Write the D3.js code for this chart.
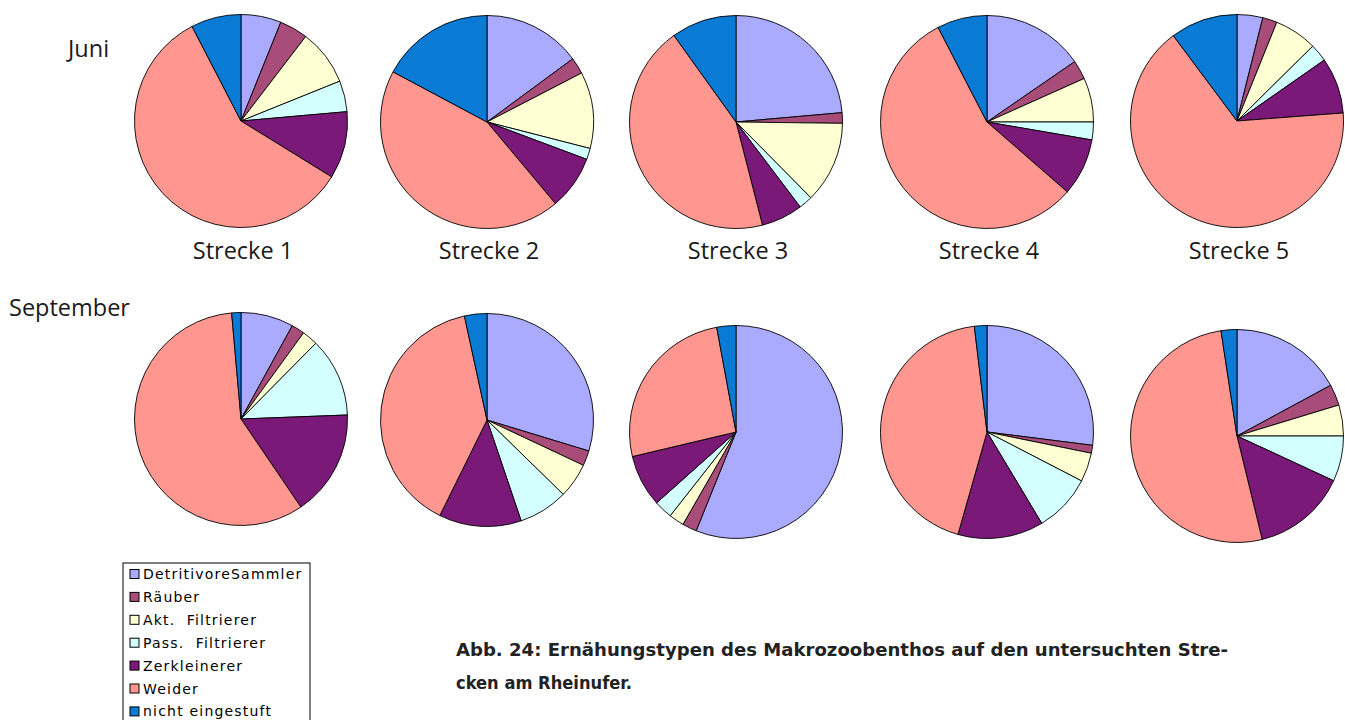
<!DOCTYPE html>
<meta charset="utf-8">
<style>
    body { margin: 0; background: #fff; }
    .label { font-family: "Open Sans", sans-serif; font-size: 23.5px; fill: #1a1a1a; }
    .legend text { font-family: "DejaVu Sans", Verdana, sans-serif; font-size: 14px; letter-spacing: 1.2px; fill: #000; }
    .caption { font-family: "DejaVu Sans Condensed", "DejaVu Sans", sans-serif; font-weight: bold; font-size: 17.5px; fill: #222; }
</style>
<body>
<script src="https://d3js.org/d3.v7.min.js"></script>
<script>
    // feeding types, clockwise from 12 o'clock
    const categories = ["DetritivoreSammler", "Räuber", "Akt.  Filtrierer", "Pass.  Filtrierer",
        "Zerkleinerer", "Weider", "nicht eingestuft"];
    const colors = ["#aaabff", "#a84d7a", "#ffffd4", "#d4ffff", "#7a1977", "#ff9690", "#0a7bd5"];

    const stations = ["Strecke 1", "Strecke 2", "Strecke 3", "Strecke 4", "Strecke 5"];

    // percentages per station (Juni)
    const juni = [
        [6.1, 4.3, 8.5, 4.7, 10.2, 58.6, 7.6],
        [14.9, 2.5, 11.6, 1.7, 8.2, 43.9, 17.2],
        [23.6, 1.6, 12.4, 2.1, 6.3, 44.1, 9.9],
        [15.4, 2.9, 6.7, 2.7, 8.7, 56.0, 7.6],
        [3.9, 2.2, 6.5, 2.7, 8.5, 66.0, 10.2]
    ];

    // percentages per station (September)
    const september = [
        [8.0, 2.0, 2.4, 12.0, 16.1, 58.1, 1.4],
        [29.7, 2.3, 5.3, 7.5, 12.5, 39.3, 3.4],
        [56.1, 2.2, 2.3, 2.8, 7.9, 25.8, 2.9],
        [27.0, 1.2, 4.4, 8.8, 13.0, 43.7, 1.9],
        [17.1, 3.2, 4.7, 6.9, 14.3, 51.4, 2.4]
    ];

    const width = 1345, height = 720;
    const centersX = [241, 487, 736, 987, 1237];
    const juniY = [121, 122, 122, 122, 121];
    const septY = [419, 420, 432, 432, 436];
    const radius = 106.5;

    const svg = d3.select("body").append("svg")
        .attr("width", width)
        .attr("height", height);

    const pie = d3.pie().sort(null).value(d => d);
    const arc = d3.arc().innerRadius(0).outerRadius(radius);

    function drawPie(values, cx, cy) {
        const g = svg.append("g").attr("transform", `translate(${cx},${cy})`);
        g.selectAll("path")
            .data(pie(values))
            .join("path")
            .attr("d", arc)
            .attr("fill", (d, i) => colors[i])
            .attr("stroke", "#000")
            .attr("stroke-width", 0.9)
            .attr("stroke-linejoin", "round");
    }

    juni.forEach((v, i) => drawPie(v, centersX[i], juniY[i]));
    september.forEach((v, i) => drawPie(v, centersX[i], septY[i]));

    // station labels under the top row
    svg.selectAll(".station")
        .data(stations)
        .join("text")
        .attr("class", "label station")
        .attr("x", (d, i) => centersX[i] + 2)
        .attr("y", 259)
        .attr("text-anchor", "middle")
        .text(d => d);

    svg.append("text").attr("class", "label").attr("x", 68).attr("y", 57).text("Juni");
    svg.append("text").attr("class", "label").attr("x", 9).attr("y", 316).text("September");

    // legend
    const legend = svg.append("g").attr("class", "legend").attr("transform", "translate(123,563)");
    legend.append("rect")
        .attr("width", 187).attr("height", 160)
        .attr("fill", "#fff").attr("stroke", "#000").attr("stroke-width", 1);

    const rowH = 22.9;
    const items = legend.selectAll("g.item")
        .data(categories)
        .join("g")
        .attr("class", "item")
        .attr("transform", (d, i) => `translate(0,${11 + i * rowH})`);
    items.append("rect")
        .attr("x", 7).attr("y", -4.5)
        .attr("width", 9).attr("height", 9)
        .attr("fill", (d, i) => colors[i])
        .attr("stroke", "#000").attr("stroke-width", 1);
    items.append("text")
        .attr("x", 20).attr("y", 5)
        .style("white-space", "pre")
        .text(d => d);

    // figure caption
    const captionLines = [
        "Abb. 24: Ernähungstypen des Makrozoobenthos auf den untersuchten Stre-",
        "cken am Rheinufer."
    ];
    const captionWidths = [772, 176];
    svg.selectAll(".caption")
        .data(captionLines)
        .join("text")
        .attr("class", "caption")
        .attr("x", 456)
        .attr("y", (d, i) => 656 + i * 33)
        .attr("textLength", (d, i) => captionWidths[i])
        .attr("lengthAdjust", "spacingAndGlyphs")
        .text(d => d);
</script>
